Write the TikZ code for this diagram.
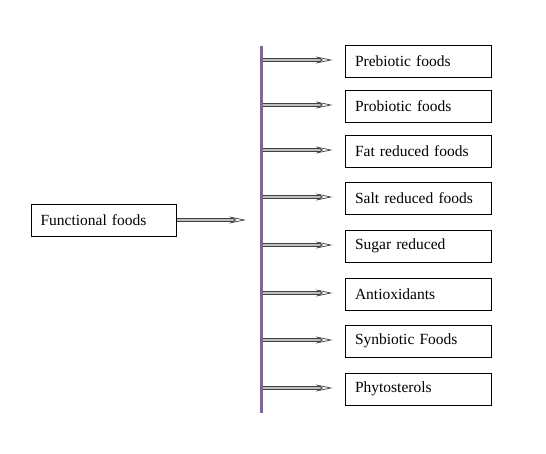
\documentclass[tikz,border=0pt]{standalone}
\usepackage{fontspec}
\setmainfont{Liberation Serif}
\usetikzlibrary{arrows.meta, positioning, calc}
\definecolor{barpurple}{RGB}{128, 100, 162}
\definecolor{shaftgray}{RGB}{190, 190, 190}

\begin{document}
\begin{tikzpicture}[x=1pt, y=-1pt,
        box/.style={draw, thick, minimum width=146pt, minimum height=32pt, text width=126pt,
                    align=left, inner sep=0pt, font=\fontsize{15.5}{18}\selectfont},
        pipe/.style={draw=black!75, line width=0.6pt, double=shaftgray, double distance=2.2pt,
                     -{Stealth[open, length=17pt, width=7pt, inset=6pt, line width=0.7pt, fill=white]}},
        bar/.style={barpurple, line width=3pt}
      ]
        \useasboundingbox (0,0) rectangle (546,453);
        % left box and the bar
        \node[box, minimum width=145pt, text width=127pt] (fnc) at (104,220) {Functional foods};
        \coordinate (bartop) at (261,46);
        \coordinate (barbot) at (261,413);
        \draw[bar] (bartop) -- (barbot);
        % the food boxes
        \node[box] (f1) at (418,61)  {Prebiotic foods};
        \node[box] (f2) at (418,106) {Probiotic foods};
        \node[box] (f3) at (418,151) {Fat reduced foods};
        \node[box] (f4) at (418,198) {Salt reduced foods};
        \node[box] (f5) at (418,246) {Sugar reduced};
        \node[box] (f6) at (418,294) {Antioxidants};
        \node[box] (f7) at (418,341) {Synbiotic Foods};
        \node[box] (f8) at (418,389) {Phytosterols};
        % arrows
        \draw[pipe, shorten >=15pt] (fnc.east) -- (fnc.east -| bartop);
        \foreach \i in {1,...,8} { \draw[pipe, shorten >=12pt] ($(f\i.west -| bartop)+(1.5,-1)$) -- ($(f\i.west)+(0,-1)$); }
      \end{tikzpicture}
\end{document}
